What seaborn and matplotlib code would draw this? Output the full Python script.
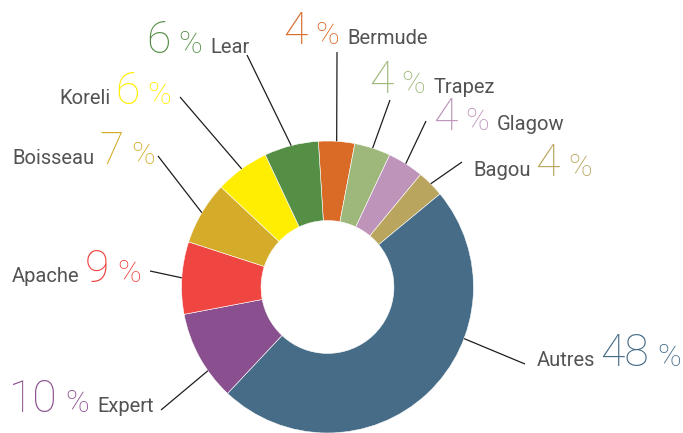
import numpy as np
import matplotlib
matplotlib.use("Agg")
import matplotlib.pyplot as plt
import seaborn as sns

# Slice sizes as drawn, and the numbers printed next to them
names = ["Bermude", "Trapez", "Glagow", "Bagou", "Autres", "Expert", "Apache", "Boisseau", "Koreli", "Lear"]
shares = [4, 4, 4, 3, 48, 10, 8, 7, 6, 6]
printed = ["4", "4", "4", "4", "48", "10", "9", "7", "6", "6"]
colors = ["#D96B27", "#9DB87A", "#BE94BA", "#B9A55E", "#466C87",
          "#8A4F8E", "#F04641", "#D4AC2A", "#FFEE00", "#548F45"]

sns.set_theme(style="white")
plt.rcParams["font.family"] = ["Roboto", "DejaVu Sans"]

W, H = 683, 433
R = 146.0
cx, cy = 327.5, 287.0

fig = plt.figure(figsize=(W / 100, H / 100), dpi=100)
ax = fig.add_axes([0, 0, 1, 1])
wedges, _ = ax.pie(shares, colors=sns.color_palette(colors), startangle=93.6,
                   counterclock=False, radius=1.0,
                   wedgeprops=dict(width=0.545, edgecolor="white", linewidth=0.4))
ax.set_xlim(-cx / R, (W - cx) / R)
ax.set_ylim(-(H - cy) / R, cy / R)
ax.axis("off")


def px(x, y):
    return (x - cx) / R, (cy - y) / R


# label start (left x, baseline y), order of pieces, outer end of leader line
layout = {
    "Bermude": ((283, 44), "num", (337, 52)),
    "Trapez": ((369, 93), "num", (390, 100)),
    "Glagow": ((433, 130), "num", (426, 121)),
    "Bagou": ((473, 176), "name", (462, 162)),
    "Autres": ((537, 366), "name", (525, 364)),
    "Expert": ((9, 412), "num", (161, 410)),
    "Apache": ((12, 282), "name", (150, 271)),
    "Boisseau": ((12, 164), "name", (158, 156)),
    "Koreli": ((59, 104), "name", (180, 97)),
    "Lear": ((146, 53), "num", (247, 55)),
}
# leader lines that do not meet the ring at the middle of their slice
# (clockwise degrees from the top)
line_angle = {"Autres": 110.7, "Expert": 235}

renderer = fig.canvas.get_renderer()
name_color = "#535353"


def put(x, y, s, size, color, weight):
    t = ax.text(*px(x, y), s, fontsize=size, color=color, fontweight=weight,
                ha="left", va="baseline")
    return x + t.get_window_extent(renderer).width


for name, val, col, w in zip(names, printed, colors, wedges):
    (x, y), order, (lx, ly) = layout[name]
    if order == "num":
        x = put(x, y, val, 32, col, "light") + 8
        x = put(x, y, "%", 23, col, "light") + 8
        put(x, y, name, 14.5, name_color, "normal")
    else:
        x = put(x, y, name, 14.5, name_color, "normal") + 5
        x = put(x, y, val, 32, col, "light") + 8
        put(x, y, "%", 23, col, "light")

    if name in line_angle:
        theta = np.deg2rad(90 - line_angle[name])
    else:
        theta = np.deg2rad((w.theta1 + w.theta2) / 2)
    x0, y0 = np.cos(theta) * 1.0, np.sin(theta) * 1.0
    x1, y1 = px(lx, ly)
    ax.plot([x0, x1], [y0, y1], color="#1E1E1E", lw=0.9, solid_capstyle="butt")

fig.savefig("out.png", dpi=100)
